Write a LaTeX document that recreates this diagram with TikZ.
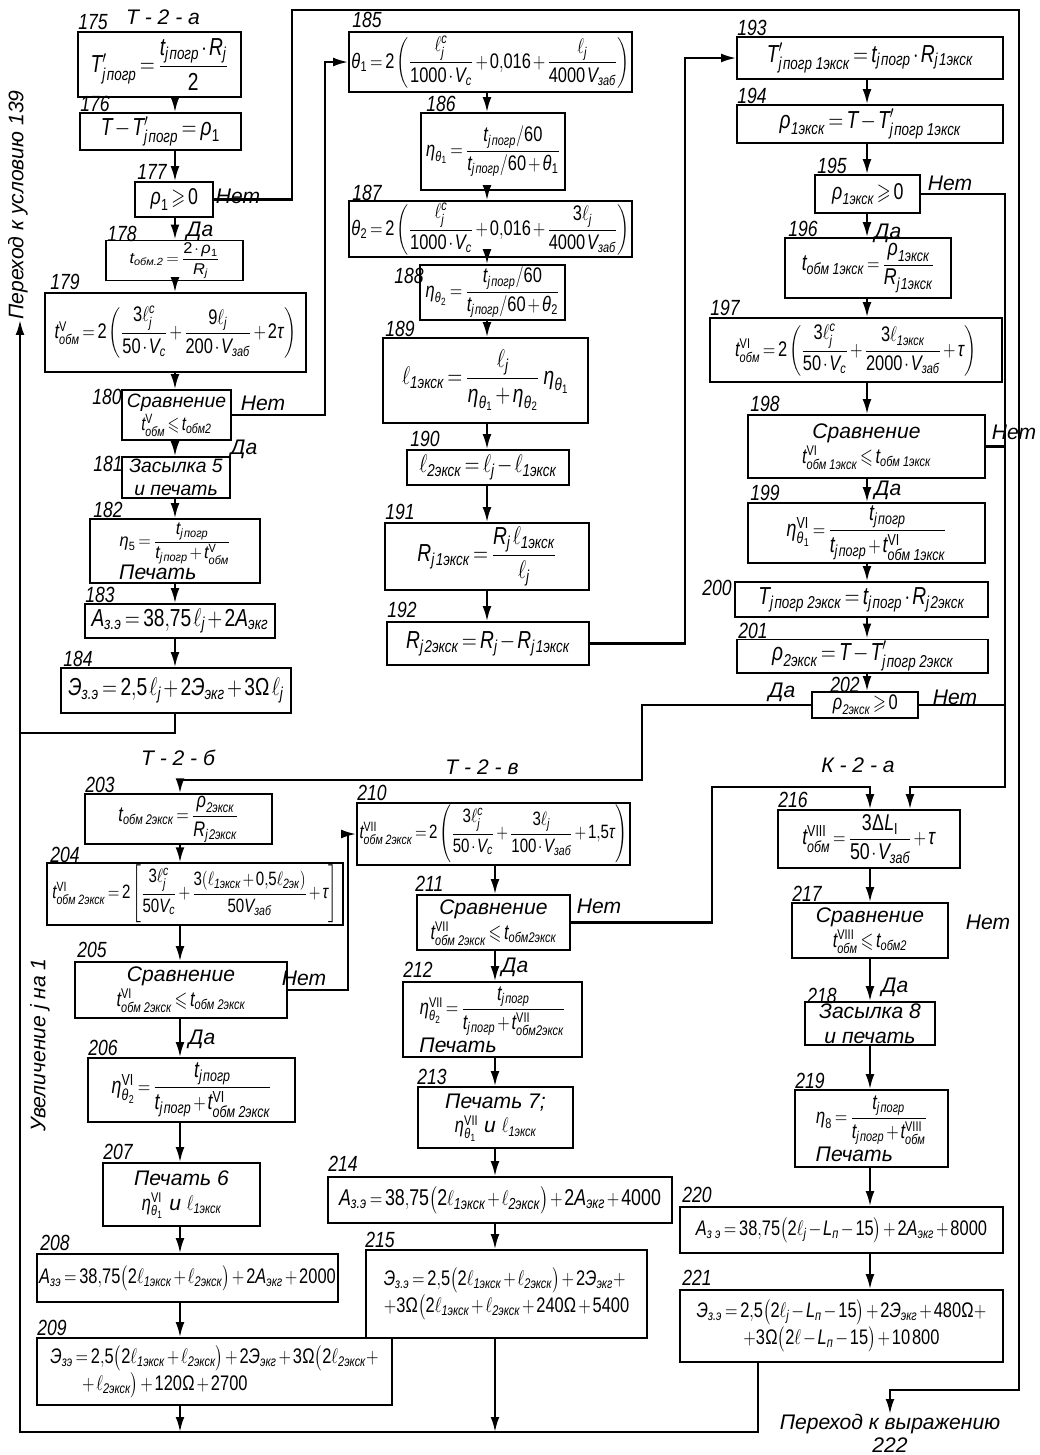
\documentclass[tikz,border=0pt]{standalone}
\usepackage{amsmath,amssymb}
\usepackage{mathspec}
\setmainfont{Liberation Sans}
\setmathsfont(Digits,Latin,Greek){Liberation Sans}
\newfontfamily\cond{Liberation Sans}[FakeStretch=0.8]
\usetikzlibrary{arrows.meta}
\newcommand{\jp}{j\,\text{погр}}
\newcommand{\obm}{\text{обм}}
\newcommand{\zab}{\text{заб}}
\newcommand{\ekg}{\text{экг}}
\newcommand{\ek}[1]{\text{#1экск}}
\newcommand{\Eh}{\text{Э}}
\newcommand{\zz}{\text{з.э}}
\newcommand{\rn}[1]{\textup{#1}}
\newcommand{\fm}[2][1]{\scalebox{0.78}[#1]{$#2$}}
\newcommand{\tightmath}{\thinmuskip=2mu\medmuskip=2mu plus 1mu\thickmuskip=3mu plus 2mu}

\begin{document}
\begin{tikzpicture}[x=0.02cm,y=-0.02cm,
  box/.style={draw,line width=1pt,inner sep=1pt,align=center,font=\fontsize{12}{14}\selectfont\itshape\tightmath},
  lg/.style={font=\fontsize{14}{16}\selectfont\itshape\tightmath},
  md/.style={font=\fontsize{13}{15}\selectfont\itshape\tightmath},
  sm/.style={font=\fontsize{11}{13}\selectfont\itshape\tightmath},
  sz/.style 2 args={minimum width=#1*0.02cm,minimum height=#2*0.02cm},
  num/.style={anchor=south west,inner sep=0pt,font=\cond\fontsize{12.5}{13}\selectfont\itshape},
  lbl/.style={inner sep=0pt,font=\fontsize{12}{13}\selectfont\itshape},
  wire/.style={line width=1.2pt},
  arr/.style={wire,-{Latex[length=8.5pt,width=5pt]}}]
\useasboundingbox (0,0) rectangle (1040,1455);

% --- axes of the columns -----------------------------------------------
\coordinate (axL) at (175,0);
\coordinate (axM) at (487,0);
\coordinate (axR) at (867,0);
\coordinate (axBL) at (180,0);
\coordinate (axBM) at (495,0);
\coordinate (axBR) at (870,0);

% --- headers -------------------------------------------------------------
\node[lbl] (hTa) at (163,17) {Т - 2 - а};
\node[lbl] (hTb) at (178,758) {Т - 2 - б};
\node[lbl] (hTv) at (482,767) {Т - 2 - в};
\node[lbl] (hKa) at (858,765) {К - 2 - а};

% --- T-2-a ---------------------------------------------------------------
\node[box,lg,sz={163}{65}] (n175) at (159.5,64.5) {\fm{T'_{\jp}=\dfrac{t_{\jp}\cdot R_j}{2}}};
\node[box,lg,sz={161}{37}] (n176) at (160.5,131.5) {\fm{T-T'_{\jp}=\rho_1}};
\node[box,md,sz={78}{35}] (n177) at (174,199.5) {\fm{\rho_1\geqslant 0}};
\node[box,sz={137}{35}] (n178) at (174.5,260.5) {\fm[0.74]{t_{\text{обм.2}}=\dfrac{2\cdot\rho_1}{R_j}}};
\node[box,sz={261}{79}] (n179) at (175.5,332.5) {\fm{t^{\rn{V}}_{\obm}=2\left(\dfrac{3\ell^{c}_{j}}{50\cdot V_c}+\dfrac{9\ell_j}{200\cdot V_{\zab}}+2\tau\right)}};
\node[box,sm,sz={109}{50}] (n180) at (176.5,415) {Сравнение\\\fm{t^{\rn{V}}_{\obm}\leqslant t_{\text{обм2}}}};
\node[box,sm,sz={108}{41}] (n181) at (176,477.5) {Засылка 5\\и печать};
\node[box,sz={170}{64},align=left] (n182) at (175,551) {\fm[0.85]{\eta_5=\dfrac{t_{\jp}}{t_{\jp}+t^{\rn{V}}_{\obm}}}\\[-1pt]Печать};
\node[box,lg,sz={190}{34}] (n183) at (180,621) {\fm{A_{\zz}=38{,}75\,\ell_j+2A_{\ekg}}};
\node[box,lg,sz={230}{45}] (n184) at (176,690.5) {\fm{\Eh_{\zz}=2{,}5\,\ell_j+2\Eh_{\ekg}+3\Omega\,\ell_j}};

\node[num] (t175) at (78,30) {175};
\node[num] (t176) at (80,112) {176};
\node[num] (t177) at (137,180) {177};
\node[num] (t178) at (107,242) {178};
\node[num] (t179) at (50,290) {179};
\node[num] (t180) at (92,405) {180};
\node[num] (t181) at (93,472) {181};
\node[num] (t182) at (93,518) {182};
\node[num] (t183) at (85,603) {183};
\node[num] (t184) at (63,667) {184};

\node[lbl] (no177) at (238,196) {Нет};
\node[lbl] (da177) at (200,231) {Да};
\node[lbl] (no180) at (263,403) {Нет};
\node[lbl] (da180) at (244,449) {Да};

\draw[arr] (n175.south -| axL) -- (n176.north -| axL);
\draw[arr] (n176.south -| axL) -- (n177.north -| axL);
\draw[arr] (n177.south -| axL) -- (n178.north -| axL);
\draw[arr] (n178.south -| axL) -- (n179.north -| axL);
\draw[arr] (n179.south -| axL) -- (n180.north -| axL);
\draw[arr] (n180.south -| axL) -- (n181.north -| axL);
\draw[arr] (n181.south -| axL) -- (n182.north -| axL);
\draw[arr] (n182.south -| axL) -- (n183.north -| axL);
\draw[arr] (n183.south -| axL) -- (n184.north -| axL);

% --- middle column -------------------------------------------------------
\node[box,sz={283}{60}] (n185) at (490.5,62) {\fm{\theta_1=2\left(\dfrac{\ell^{c}_{j}}{1000\cdot V_c}+0{,}016+\dfrac{\ell_j}{4000\,V_{\zab}}\right)}};
\node[box,sz={144}{77}] (n186) at (493,151.5) {\fm{\eta_{\theta_1}=\dfrac{t_{\jp}/60}{t_{\jp}/60+\theta_1}}};
\node[box,sz={283}{52}] (n187) at (490.5,229) {\fm{\theta_2=2\left(\dfrac{\ell^{c}_{j}}{1000\cdot V_c}+0{,}016+\dfrac{3\ell_j}{4000\,V_{\zab}}\right)}};
\node[box,sz={145}{55}] (n188) at (492.5,292.5) {\fm{\eta_{\theta_2}=\dfrac{t_{\jp}/60}{t_{\jp}/60+\theta_2}}};
\node[box,lg,sz={205}{85}] (n189) at (485.5,380.5) {\fm{\ell_{\ek{1}}=\dfrac{\ell_j}{\eta_{\theta_1}+\eta_{\theta_2}}\;\eta_{\theta_1}}};
\node[box,lg,sz={162}{35}] (n190) at (488,467.5) {\fm{\ell_{\ek{2}}=\ell_j-\ell_{\ek{1}}}};
\node[box,lg,sz={204}{67}] (n191) at (487,556.5) {\fm{R_{j\,\ek{1}}=\dfrac{R_j\,\ell_{\ek{1}}}{\ell_j}}};
\node[box,lg,sz={202}{43}] (n192) at (488,643.5) {\fm{R_{j\,\ek{2}}=R_j-R_{j\,\ek{1}}}};

\node[num] (t185) at (352,28) {185};
\node[num] (t186) at (426,112) {186};
\node[num] (t187) at (352,201) {187};
\node[num] (t188) at (394,284) {188};
\node[num] (t189) at (385,337) {189};
\node[num] (t190) at (410,447) {190};
\node[num] (t191) at (385,520) {191};
\node[num] (t192) at (387,618) {192};

\draw[arr] (n185.south -| axM) -- (n186.north -| axM);
\draw[arr] (n186.south -| axM) -- (n187.north -| axM);
\draw[arr] (n187.south -| axM) -- (n188.north -| axM);
\draw[arr] (n188.south -| axM) -- (n189.north -| axM);
\draw[arr] (n189.south -| axM) -- (n190.north -| axM);
\draw[arr] (n190.south -| axM) -- (n191.north -| axM);
\draw[arr] (n191.south -| axM) -- (n192.north -| axM);

% --- right column --------------------------------------------------------
\node[box,lg,sz={266}{42}] (n193) at (870,58) {\fm{T'_{j\,\text{погр 1экск}}=t_{\jp}\cdot R_{j\,\ek{1}}}};
\node[box,lg,sz={266}{38}] (n194) at (870,124) {\fm{\rho_{\ek{1}}=T-T'_{j\,\text{погр 1экск}}}};
\node[box,md,sz={105}{38}] (n195) at (867.5,194) {\fm{\rho_{\ek{1}}\geqslant 0}};
\node[box,md,sz={166}{60}] (n196) at (868,268) {\fm{t_{\text{обм 1экск}}=\dfrac{\rho_{\ek{1}}}{R_{j\,\ek{1}}}}};
\node[box,sz={292}{64}] (n197) at (856,350) {\fm{t^{\rn{VI}}_{\obm}=2\left(\dfrac{3\ell^{c}_{j}}{50\cdot V_c}+\dfrac{3\ell_{\ek{1}}}{2000\cdot V_{\zab}}+\tau\right)}};
\node[box,sz={237}{63}] (n198) at (866.5,446.5) {Сравнение\\\fm{t^{\rn{VI}}_{\text{обм 1экск}}\leqslant t_{\text{обм 1экск}}}};
\node[box,md,sz={237}{60}] (n199) at (866.5,533) {\fm{\eta^{\rn{VI}}_{\theta_1}=\dfrac{t_{\jp}}{t_{\jp}+t^{\rn{VI}}_{\text{обм 1экск}}}}};
\node[box,lg,sz={253}{35}] (n200) at (861.5,599.5) {\fm{T_{j\,\text{погр 2экск}}=t_{\jp}\cdot R_{j\,\ek{2}}}};
\node[box,lg,sz={251}{32}] (n201) at (862.5,656) {\fm{\rho_{\ek{2}}=T-T'_{j\,\text{погр 2экск}}}};
\node[box,sz={106}{26}] (n202) at (865,705) {\fm{\rho_{\ek{2}}\geqslant 0}};

\node[num] (t193) at (737,36) {193};
\node[num] (t194) at (737,104) {194};
\node[num] (t195) at (817,174) {195};
\node[num] (t196) at (788,237) {196};
\node[num] (t197) at (710,316) {197};
\node[num] (t198) at (750,412) {198};
\node[num] (t199) at (750,501) {199};
\node[num] (t200) at (702,596) {200};
\node[num] (t201) at (738,639) {201};
\node[num] (t202) at (830,693) {202};

\node[lbl] (no195) at (950,183) {Нет};
\node[lbl] (da195) at (888,233) {Да};
\node[lbl] (no198) at (1014,432) {Нет};
\node[lbl] (da198) at (888,490) {Да};
\node[lbl] (da202) at (782,692) {Да};
\node[lbl] (no202) at (955,697) {Нет};

\draw[arr] (n193.south -| axR) -- (n194.north -| axR);
\draw[arr] (n194.south -| axR) -- (n195.north -| axR);
\draw[arr] (n195.south -| axR) -- (n196.north -| axR);
\draw[arr] (n196.south -| axR) -- (n197.north -| axR);
\draw[arr] (n197.south -| axR) -- (n198.north -| axR);
\draw[arr] (n198.south -| axR) -- (n199.north -| axR);
\draw[arr] (n199.south -| axR) -- (n200.north -| axR);
\draw[arr] (n200.south -| axR) -- (n201.north -| axR);
\draw[arr] (n201.south -| axR) -- (n202.north -| axR);

% --- T-2-b ---------------------------------------------------------------
\node[box,sz={187}{48}] (n203) at (178.5,819) {\fm{t_{\text{обм 2экск}}=\dfrac{\rho_{\ek{2}}}{R_{j\,\ek{2}}}}};
\node[box,sm,sz={296}{58}] (n204) at (195,894) {\fm{t^{\rn{VI}}_{\text{обм 2экск}}=2\left[\dfrac{3\ell^{c}_{j}}{50V_c}+\dfrac{3(\ell_{\ek{1}}+0{,}5\ell_{\text{2эк}})}{50V_{\zab}}+\tau\right]}};
\node[box,sz={212}{56}] (n205) at (181,990) {Сравнение\\\fm{t^{\rn{VI}}_{\text{обм 2экск}}\leqslant t_{\text{обм 2экск}}}};
\node[box,md,sz={207}{64}] (n206) at (191.5,1090) {\fm{\eta^{\rn{VI}}_{\theta_2}=\dfrac{t_{\jp}}{t_{\jp}+t^{\rn{VI}}_{\text{обм 2экск}}}}};
\node[box,sz={157}{63}] (n207) at (181.5,1194.5) {Печать 6\\\fm{\eta^{\rn{VI}}_{\theta_1}} и \fm{\ell_{\ek{1}}}};
\node[box,sz={301}{48}] (n208) at (187.5,1278) {\fm{A_{\text{зэ}}=38{,}75\bigl(2\ell_{\ek{1}}+\ell_{\ek{2}}\bigr)+2A_{\ekg}+2000}};
\node[box,sz={355}{67},align=left] (n209) at (214.5,1371.5) {\fm{\Eh_{\text{зэ}}=2{,}5\bigl(2\ell_{\ek{1}}+\ell_{\ek{2}}\bigr)+2\Eh_{\ekg}+3\Omega\bigl(2\ell_{\ek{2}}+}\\\hspace{1.5em}\fm{+\,\ell_{\ek{2}}\bigr)+120\Omega+2700}};

\node[num] (t203) at (85,793) {203};
\node[num] (t204) at (50,863) {204};
\node[num] (t205) at (77,958) {205};
\node[num] (t206) at (88,1056) {206};
\node[num] (t207) at (103,1160) {207};
\node[num] (t208) at (40,1251) {208};
\node[num] (t209) at (37,1336) {209};

\node[lbl] (no205) at (304,978) {Нет};
\node[lbl] (da205) at (202,1039) {Да};

\draw[arr] (n203.south -| axBL) -- (n204.north -| axBL);
\draw[arr] (n204.south -| axBL) -- (n205.north -| axBL);
\draw[arr] (n205.south -| axBL) -- (n206.north -| axBL);
\draw[arr] (n206.south -| axBL) -- (n207.north -| axBL);
\draw[arr] (n207.south -| axBL) -- (n208.north -| axBL);
\draw[arr] (n208.south -| axBL) -- (n209.north -| axBL);

% --- T-2-v ---------------------------------------------------------------
\node[box,sm,sz={273}{62}] (n210) at (493.5,834) {\fm{t^{\rn{VII}}_{\text{обм 2экск}}=2\left(\dfrac{3\ell^{c}_{j}}{50\cdot V_c}+\dfrac{3\ell_j}{100\cdot V_{\zab}}+1{,}5\tau\right)}};
\node[box,sz={153}{55}] (n211) at (493.5,922.5) {Сравнение\\\fm{t^{\rn{VII}}_{\text{обм 2экск}}\leqslant t_{\text{обм2экск}}}};
\node[box,sz={179}{75},align=left] (n212) at (492.5,1019.5) {\fm{\eta^{\rn{VII}}_{\theta_2}=\dfrac{t_{\jp}}{t_{\jp}+t^{\rn{VII}}_{\text{обм2экск}}}}\\Печать};
\node[box,sz={155}{61}] (n213) at (495.5,1117.5) {Печать 7;\\\fm{\eta^{\rn{VII}}_{\theta_1}} и \fm{\ell_{\ek{1}}}};
\node[box,md,sz={344}{46}] (n214) at (500,1200) {\fm{A_{\zz}=38{,}75\bigl(2\ell_{\ek{1}}+\ell_{\ek{2}}\bigr)+2A_{\ekg}+4000}};
\node[box,sz={281}{88},align=left] (n215) at (506.5,1294) {\fm{\Eh_{\zz}=2{,}5\bigl(2\ell_{\ek{1}}+\ell_{\ek{2}}\bigr)+2\Eh_{\ekg}+}\\\fm{+3\Omega\bigl(2\ell_{\ek{1}}+\ell_{\ek{2}}+240\Omega+5400}};

\node[num] (t210) at (357,801) {210};
\node[num] (t211) at (415,892) {211};
\node[num] (t212) at (403,978) {212};
\node[num] (t213) at (417,1085) {213};
\node[num] (t214) at (328,1172) {214};
\node[num] (t215) at (365,1248) {215};

\node[lbl] (no211) at (599,906) {Нет};
\node[lbl] (da211) at (515,967) {Да};

\draw[arr] (n210.south -| axBM) -- (n211.north -| axBM);
\draw[arr] (n211.south -| axBM) -- (n212.north -| axBM);
\draw[arr] (n212.south -| axBM) -- (n213.north -| axBM);
\draw[arr] (n213.south -| axBM) -- (n214.north -| axBM);
\draw[arr] (n214.south -| axBM) -- (n215.north -| axBM);

% --- K-2-a ---------------------------------------------------------------
\node[box,md,sz={182}{58}] (n216) at (869,839) {\fm{t^{\rn{VIII}}_{\obm}=\dfrac{3\Delta L_{\rn{I}}}{50\cdot V_{\zab}}+\tau}};
\node[box,sz={156}{55}] (n217) at (870,930.5) {Сравнение\\\fm{t^{\rn{VIII}}_{\obm}\leqslant t_{\text{обм2}}}};
\node[box,sz={130}{37}] (n218) at (870,1023.5) {Засылка 8\\и печать};
\node[box,sz={153}{77},align=left] (n219) at (871.5,1128.5) {\fm{\eta_8=\dfrac{t_{\jp}}{t_{\jp}+t^{\rn{VIII}}_{\obm}}}\\Печать};
\node[box,sz={323}{46}] (n220) at (841.5,1230) {\fm{A_{\text{з э}}=38{,}75\bigl(2\ell_j-L_{\text{п}}-15\bigr)+2A_{\ekg}+8000}};
\node[box,sz={323}{72}] (n221) at (841.5,1326) {\fm{\Eh_{\zz}=2{,}5\bigl(2\ell_j-L_{\text{п}}-15\bigr)+2\Eh_{\ekg}+480\Omega+}\\\fm{+3\Omega\bigl(2\ell-L_{\text{п}}-15\bigr)+10\,800}};

\node[num] (t216) at (778,808) {216};
\node[num] (t217) at (792,902) {217};
\node[num] (t218) at (807,1004) {218};
\node[num] (t219) at (795,1089) {219};
\node[num] (t220) at (682,1203) {220};
\node[num] (t221) at (682,1286) {221};

\node[lbl] (no217) at (988,922) {Нет};
\node[lbl] (da217) at (895,987) {Да};

\draw[arr] (n216.south -| axBR) -- (n217.north -| axBR);
\draw[arr] (n217.south -| axBR) -- (n218.north -| axBR);
\draw[arr] (n218.south -| axBR) -- (n219.north -| axBR);
\draw[arr] (n219.south -| axBR) -- (n220.north -| axBR);
\draw[arr] (n220.south -| axBR) -- (n221.north -| axBR);

% --- exits ---------------------------------------------------------------
\node[lbl,rotate=90] (go139) at (18,205) {Переход к условию 139};
\node[lbl,rotate=90] (incj) at (40,1045) {Увеличение $j$ на 1};
\node[lbl,anchor=north,align=center] (g222) at (890,1414) {Переход к выражению\\222};

% --- branch lines --------------------------------------------------------
\coordinate (topL) at (292,10);
\coordinate (topR) at (1019,10);
\coordinate (botR) at (1019,1390);
\coordinate (rA) at (1005,787);
\coordinate (e216) at (910,787);
\coordinate (j180) at (325,0);
\coordinate (j192) at (685,0);
\coordinate (j205) at (348,0);
\coordinate (j211) at (712,787);
\coordinate (d202) at (642,780);
\coordinate (j184) at (175,733);
\coordinate (bl) at (20,1432);
\coordinate (j221) at (758,1432);

\draw[arr] (n177.east) -| (topL) -- (topR) -- (botR) -| (g222.north);
\draw[arr] (n180.east) -| (j180 |- n185.west) -- (n185.west);
\draw[arr] (n192.east) -| (j192 |- n193.west) -- (n193.west);
\draw[arr] (n195.east) -| (rA) -- (e216) -- (e216 |- n216.north);
\draw[wire] (n198.east) -- (n198.east -| rA);
\draw[wire] (n202.east) -- (n202.east -| rA);
\draw[arr] (n202.west) -| (d202) -| (n203.north -| axBL);
\draw[arr] (n205.east) -| (j205 |- n210.west) -- (n210.west);
\draw[arr] (n211.east) -| (j211) -| (n216.north -| axBR);
\draw[wire] (n184.south -| axL) -- (j184) -- (j184 -| bl);
\draw[arr] (n209.south -| axBL) -- (axBL |- bl);
\draw[arr] (n215.south -| axBM) -- (axBM |- bl);
\draw[arr] (n221.south -| j221) -- (j221) -- (bl) -- (bl |- go139.west);
\end{tikzpicture}
\end{document}
